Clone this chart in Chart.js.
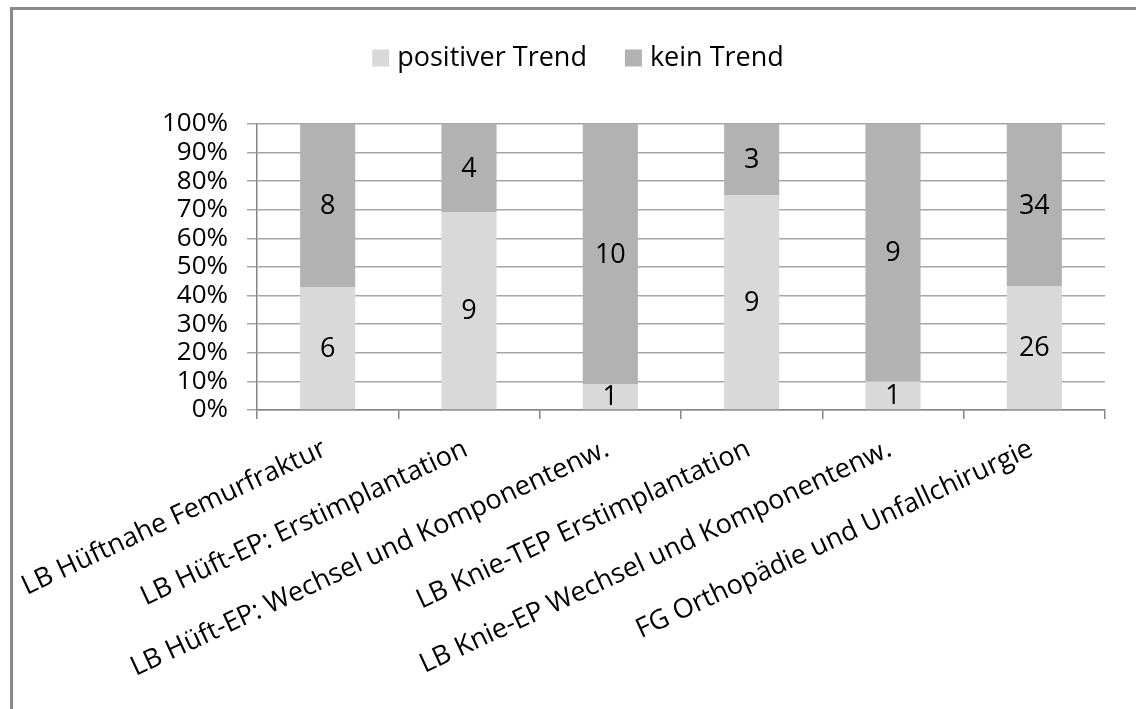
<!DOCTYPE html>
<html>
<head>
<meta charset="utf-8">
<title>Trend je Leistungsbereich</title>
<script src="https://cdn.jsdelivr.net/npm/chart.js@4.4.1/dist/chart.umd.min.js"></script>
<style>
  html, body { margin: 0; padding: 0; background: #ffffff; overflow: hidden; }
  #wrap { position: relative; width: 1136px; height: 709px; overflow: hidden; }
  #frame { position: absolute; left: 10px; top: 7px; width: 1300px; height: 900px;
           border: 3px solid #8a8a8a; box-sizing: border-box; }
  #chart { position: absolute; left: 0; top: 0; }
</style>
</head>
<body>
<div id="wrap">
  <div id="frame"></div>
  <canvas id="chart" width="1136" height="709"></canvas>
</div>
<script>
// Categories (Leistungsbereiche / Fachgruppe)
const categories = [
  'LB Hüftnahe Femurfraktur',
  'LB Hüft-EP: Erstimplantation',
  'LB Hüft-EP: Wechsel und Komponentenw.',
  'LB Knie-TEP Erstimplantation',
  'LB Knie-EP Wechsel und Komponentenw.',
  'FG Orthopädie und Unfallchirurgie'
];

// Counts per category
const positiveCounts = [6, 9, 1, 9, 1, 26];
const noTrendCounts  = [8, 4, 10, 3, 9, 34];

const seriesNames  = ['positiver Trend', 'kein Trend'];
const seriesColors = ['#d9d9d9', '#b2b2b2'];

// Percent axis: 0% .. 100% in steps of 10
const yTickStep = 10;
const yMax = 100;

const FONT = '"Open Sans", "Liberation Sans", sans-serif';
const TEXT_COLOR = '#000000';

// Share of each series in its category (100 % stacked)
const totals = positiveCounts.map((p, i) => p + noTrendCounts[i]);
const share = counts => counts.map((c, i) => c / totals[i] * 100);

// Count labels centred in each bar segment
const countLabels = {
  id: 'countLabels',
  afterDatasetsDraw(chart) {
    const ctx = chart.ctx;
    ctx.save();
    ctx.font = '27px ' + FONT;
    ctx.fillStyle = TEXT_COLOR;
    ctx.textAlign = 'center';
    ctx.textBaseline = 'middle';
    chart.data.datasets.forEach((ds, di) => {
      chart.getDatasetMeta(di).data.forEach((bar, i) => {
        const y = (bar.y + bar.base) / 2;
        ctx.fillText(String(ds.counts[i]), bar.x, y + 1);
      });
    });
    ctx.restore();
  }
};

// Legend row above the plot: square swatch + series name
const legendRow = {
  id: 'legendRow',
  afterDraw(chart) {
    const ctx = chart.ctx;
    const box = 17, gap = 8, itemGap = 38, centerX = 578, midY = 58;
    ctx.save();
    ctx.font = '27px ' + FONT;
    ctx.textBaseline = 'middle';
    ctx.textAlign = 'left';
    const items = chart.data.datasets.map(ds => ({
      text: ds.label, color: ds.backgroundColor, w: ctx.measureText(ds.label).width
    }));
    const total = items.reduce((s, it) => s + box + gap + it.w, 0) + itemGap * (items.length - 1);
    let x = centerX - total / 2;
    items.forEach(it => {
      ctx.fillStyle = it.color;
      ctx.fillRect(x, midY - box / 2, box, box);
      ctx.fillStyle = TEXT_COLOR;
      ctx.fillText(it.text, x + box + gap, midY);
      x += box + gap + it.w + itemGap;
    });
    ctx.restore();
  }
};

new Chart(document.getElementById('chart'), {
  type: 'bar',
  data: {
    labels: categories,
    datasets: [
      { label: seriesNames[0], data: share(positiveCounts), counts: positiveCounts,
        backgroundColor: seriesColors[0], borderWidth: 0 },
      { label: seriesNames[1], data: share(noTrendCounts), counts: noTrendCounts,
        backgroundColor: seriesColors[1], borderWidth: 0 }
    ]
  },
  options: {
    responsive: false,
    animation: false,
    devicePixelRatio: 1,
    categoryPercentage: 1,
    barPercentage: 0.39,
    layout: { padding: { top: 124, left: 10, right: 31, bottom: 0 } },
    plugins: {
      legend: { display: false },
      tooltip: { enabled: false }
    },
    scales: {
      x: {
        stacked: true,
        ticks: {
          font: { family: FONT, size: 27 },
          color: TEXT_COLOR,
          minRotation: 25,
          maxRotation: 25,
          autoSkip: false,
          padding: 14,
          labelOffset: -3
        },
        grid: { offset: true, drawOnChartArea: false, drawTicks: true, tickLength: 9,
                color: '#868686', lineWidth: 1.5 },
        border: { color: '#868686', width: 1.5 },
        afterFit(scale) {
          scale.height = 299;
          // rotated labels may run into the left margin
          scale.paddingLeft = 0;
          scale.paddingRight = 0;
        }
      },
      y: {
        stacked: true,
        min: 0,
        max: yMax,
        ticks: {
          stepSize: yTickStep,
          autoSkip: false,
          callback: v => v + '%',
          font: { family: FONT, size: 26 },
          color: TEXT_COLOR,
          padding: 19
        },
        grid: { color: '#a6a6a6', lineWidth: 1.5, tickLength: 10, drawTicks: true },
        border: { color: '#868686', width: 1.5 },
        afterFit(scale) { scale.width = 247; }
      }
    }
  },
  plugins: [countLabels, legendRow]
});
</script>
</body>
</html>
